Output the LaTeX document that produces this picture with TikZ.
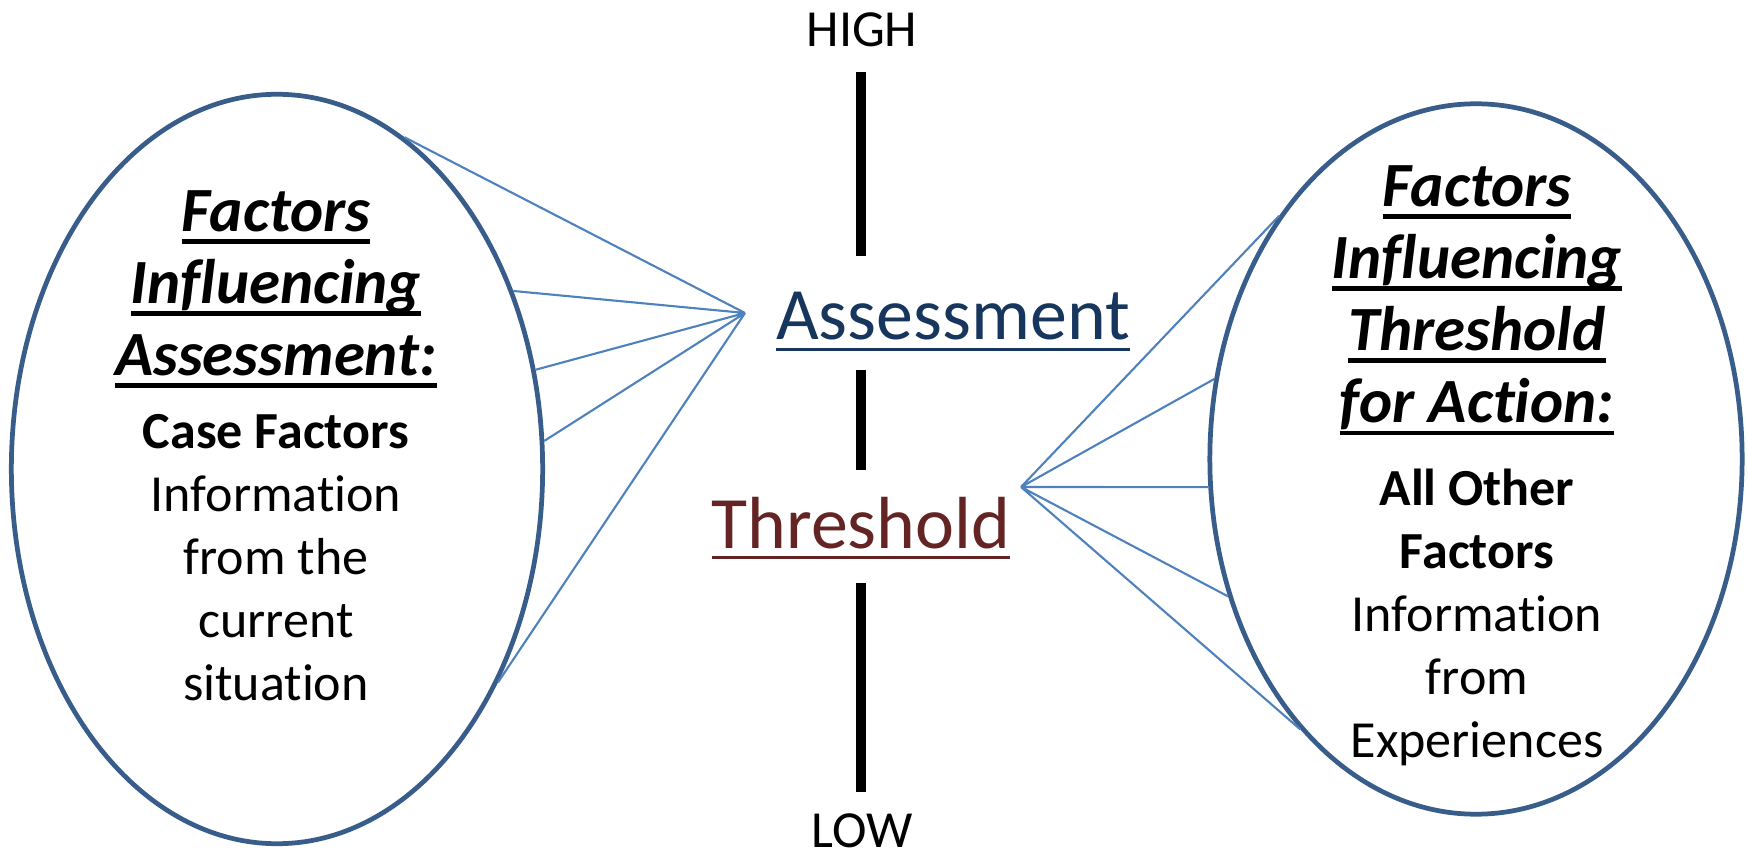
\documentclass[tikz,border=0pt]{standalone}
\usepackage{fontspec}
\setmainfont{Carlito}[Ligatures=NoCommon]
\usepackage{tikz}
\usetikzlibrary{positioning}
\usetikzlibrary{shapes.geometric}
\usepackage{xcolor}
\definecolor{ovalblue}{HTML}{385D8A}
\definecolor{fanblue}{HTML}{4F81BD}
\definecolor{assessblue}{HTML}{17365D}
\definecolor{threshred}{HTML}{632423}
\newcommand\undl[2][1.25pt]{\leavevmode\setbox0\hbox{#2}\vtop{\copy0\kern-\dp0\kern2.2pt\hrule height #1}}

\begin{document}
\begin{tikzpicture}[x=0.01cm,y=-0.01cm,
        oval/.style={draw=ovalblue,line width=1.35pt,ellipse,inner sep=0pt},
        fan/.style={fanblue,line width=0.6pt},
        scalebar/.style={line width=2.6pt},
        head/.style={inner sep=0pt,align=center,font=\fontsize{17.9}{20.5}\selectfont\bfseries\itshape},
        body/.style={inner sep=0pt,align=center,font=\fontsize{14.8}{17.9}\selectfont},
        level/.style={inner sep=0pt,font=\fontsize{14.8}{17.9}\selectfont},
        word/.style={inner sep=0pt,font=\fontsize{21}{25}\selectfont}]
    \useasboundingbox (0,0) rectangle (1748,855);
    \node (lell) [oval,minimum width=5.31cm,minimum height=7.49cm] at (277,469) {};
    \node (rell) [oval,minimum width=5.32cm,minimum height=7.1cm] at (1476,459) {};
    \node (lhead) [head,anchor=north] at (276,190)
        {\undl{Factors}\\ \undl{Influencing}\\ \undl{Assessment:}};
    \node (lbody) [body,anchor=north] at (276,414)
        {\textbf{Case Factors}\\ Information\\ from the\\ current\\ situation};
    \node (rhead) [head,anchor=north] at (1477,165)
        {\undl{Factors}\\ \undl{Influencing}\\ \undl{Threshold}\\ \undl{for Action:}};
    \node (rbody) [body,anchor=north] at (1477,468)
        {\textbf{All Other}\\ \textbf{Factors}\\ Information\\ from\\ Experiences};
    \node (high) [level,anchor=base] at (862,47) {HIGH};
    \node (low) [level,anchor=base] at (862,847) {LOW};
    \node (assess) [word,text=assessblue,anchor=base] at (953,340) {\undl[0.9pt]{Assessment}};
    \node (thresh) [word,text=threshred,anchor=base] at (861,548) {\undl[0.9pt]{Threshold}};
    \coordinate (bartop1) at (861,72);
    \coordinate (barbot1) at (861,256);
    \coordinate (bartop2) at (861,370);
    \coordinate (barbot2) at (861,470);
    \coordinate (bartop3) at (861,583);
    \coordinate (barbot3) at (861,792);
    \draw[scalebar] (bartop1) -- (barbot1);
    \draw[scalebar] (bartop2) -- (barbot2);
    \draw[scalebar] (bartop3) -- (barbot3);
    \coordinate (lapex) at (745,313);
    \coordinate (rapex) at (1021,487);
    \draw[fan] (lapex) -- (lell.69) (lapex) -- (lell.37) (lapex) -- (lell.21)
        (lapex) -- (lell.6) (lapex) -- (lell.-44);
    \draw[fan] (rapex) -- (rell.129) (rapex) -- (rell.163) (rapex) -- (rell.186)
        (rapex) -- (rell.209) (rapex) -- (rell.237);
\end{tikzpicture}
\end{document}
